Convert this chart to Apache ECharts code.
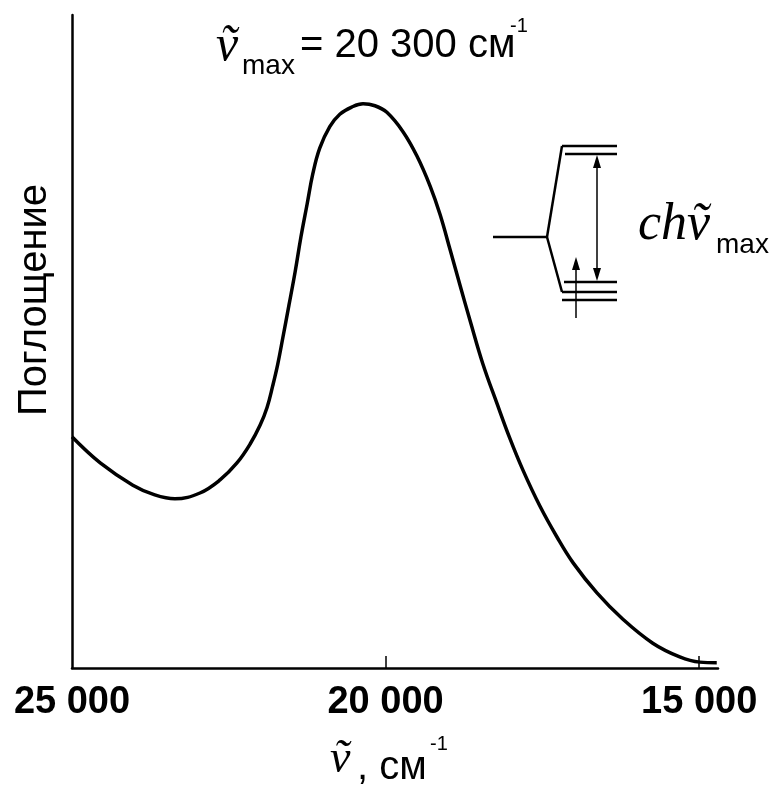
<!DOCTYPE html>
<html>
<head>
<meta charset="utf-8">
<script src="https://cdn.jsdelivr.net/npm/echarts@6/dist/echarts.min.js"></script>
<style>
html, body { margin: 0; padding: 0; background: #fff; }
#chart { width: 776px; height: 794px; }
</style>
</head>
<body>
<div id="chart"></div>
<script>
// wavenumber, cm-1
const wavenumber = [25000, 24550, 24030, 23680, 23360, 22960, 22640, 22370, 22160, 22000,
  21890, 21800, 21720, 21640, 21540, 21440, 21350, 21250, 21160, 21050,
  20890, 20730, 20540, 20360, 20170, 19980, 19720, 19500, 19290, 19130,
  18970, 18810, 18650, 18450, 18220, 18020, 17810, 17540, 17270, 17010,
  16630, 16220, 15740, 15310, 14990, 14720]
// absorbance, arbitrary units (0..100)
const absorbance = [35.4, 31.4, 28.0, 26.5, 25.9, 26.8, 28.8, 31.4, 34.3, 37.2,
  39.9, 43.2, 46.5, 50.5, 55.6, 60.8, 66.0, 71.1, 75.7, 79.6,
  82.9, 84.8, 85.9, 86.4, 86.1, 85.1, 82.1, 78.4, 73.8, 69.4,
  64.0, 58.5, 53.1, 46.6, 40.4, 35.2, 30.3, 24.8, 20.1, 16.1,
  11.5, 7.5, 3.8, 1.7, 0.9, 0.8]
const xLabels = [25000, 20000, 15000]
const xTicks = [20000, 15000]

const sans = 'Liberation Sans, Arial, sans-serif'
const serif = 'Liberation Serif, Times New Roman, serif'

let chart = echarts.init(document.getElementById('chart'))

function txt (text, x, y, size, font, italic) {
  return {
    type: 'text',
    x: x,
    y: y,
    style: {
      text: text,
      fill: '#000',
      fontSize: size,
      fontFamily: font,
      fontStyle: italic ? 'italic' : 'normal',
      textVerticalAlign: 'middle'
    }
  }
}
function seg (x1, y1, x2, y2, w) {
  return { type: 'line', shape: { x1: x1, y1: y1, x2: x2, y2: y2 }, style: { stroke: '#000', lineWidth: w || 2.5 } }
}
function head (pts) {
  return { type: 'polygon', shape: { points: pts }, style: { fill: '#000' } }
}

let option = {
  animation: false,
  grid: { left: 72, right: 58, top: 15, bottom: 126 },
  xAxis: {
    type: 'value',
    inverse: true,
    min: 14700,
    max: 25000,
    axisLine: { lineStyle: { color: '#000', width: 2.5 } },
    axisTick: { show: true, inside: true, length: 12, customValues: xTicks, lineStyle: { color: '#000', width: 1.5 } },
    axisLabel: {
      customValues: xLabels,
      color: '#000',
      fontSize: 38,
      fontWeight: 'bold',
      fontFamily: sans,
      margin: 16,
      formatter: v => String(v).replace(/(\d+)(\d{3})$/, '$1 $2')
    },
    splitLine: { show: false }
  },
  yAxis: {
    type: 'value',
    min: 0,
    max: 100,
    axisLine: { show: true, lineStyle: { color: '#000', width: 2.5 } },
    axisTick: { show: false },
    axisLabel: { show: false },
    splitLine: { show: false }
  },
  series: [{
    type: 'line',
    data: wavenumber.map((x, i) => [x, absorbance[i]]),
    smooth: 0.4,
    showSymbol: false,
    lineStyle: { color: '#000', width: 3.5 }
  }],
  graphic: [
    // title
    txt('ṽ', 216, 47, 50, serif, true),
    txt('max', 242, 66, 28, sans),
    txt('= 20 300 см', 300, 46, 40, sans),
    txt('-1', 510, 26, 20, sans),
    // y axis name
    {
      type: 'text', x: 35, y: 300, rotation: Math.PI / 2,
      style: { text: 'Поглощение', fill: '#000', fontSize: 40, fontFamily: sans, textAlign: 'center', textVerticalAlign: 'middle' }
    },
    // x axis name
    txt('ṽ', 330, 760, 46, serif, true),
    txt(', см', 357, 768, 40, sans),
    txt('-1', 430, 744, 20, sans),
    // ch nu max
    txt('chṽ', 638, 225, 52, serif, true),
    txt('max', 716, 245, 28, sans),
    // level diagram
    seg(493, 237, 547, 237),
    seg(547, 237, 562, 146),
    seg(547, 237, 562, 292),
    seg(562, 146, 617, 146),
    seg(565, 154, 617, 154),
    seg(564, 282, 617, 282),
    seg(562, 292, 617, 292),
    seg(562, 300, 617, 300),
    seg(597, 160, 597, 276, 1.5),
    head([[597, 155], [593, 168], [601, 168]]),
    head([[597, 281], [593, 268], [601, 268]]),
    seg(576, 266, 576, 318, 1.5),
    head([[576, 257], [572, 270], [580, 270]])
  ]
}
chart.setOption(option)
</script>
</body>
</html>
